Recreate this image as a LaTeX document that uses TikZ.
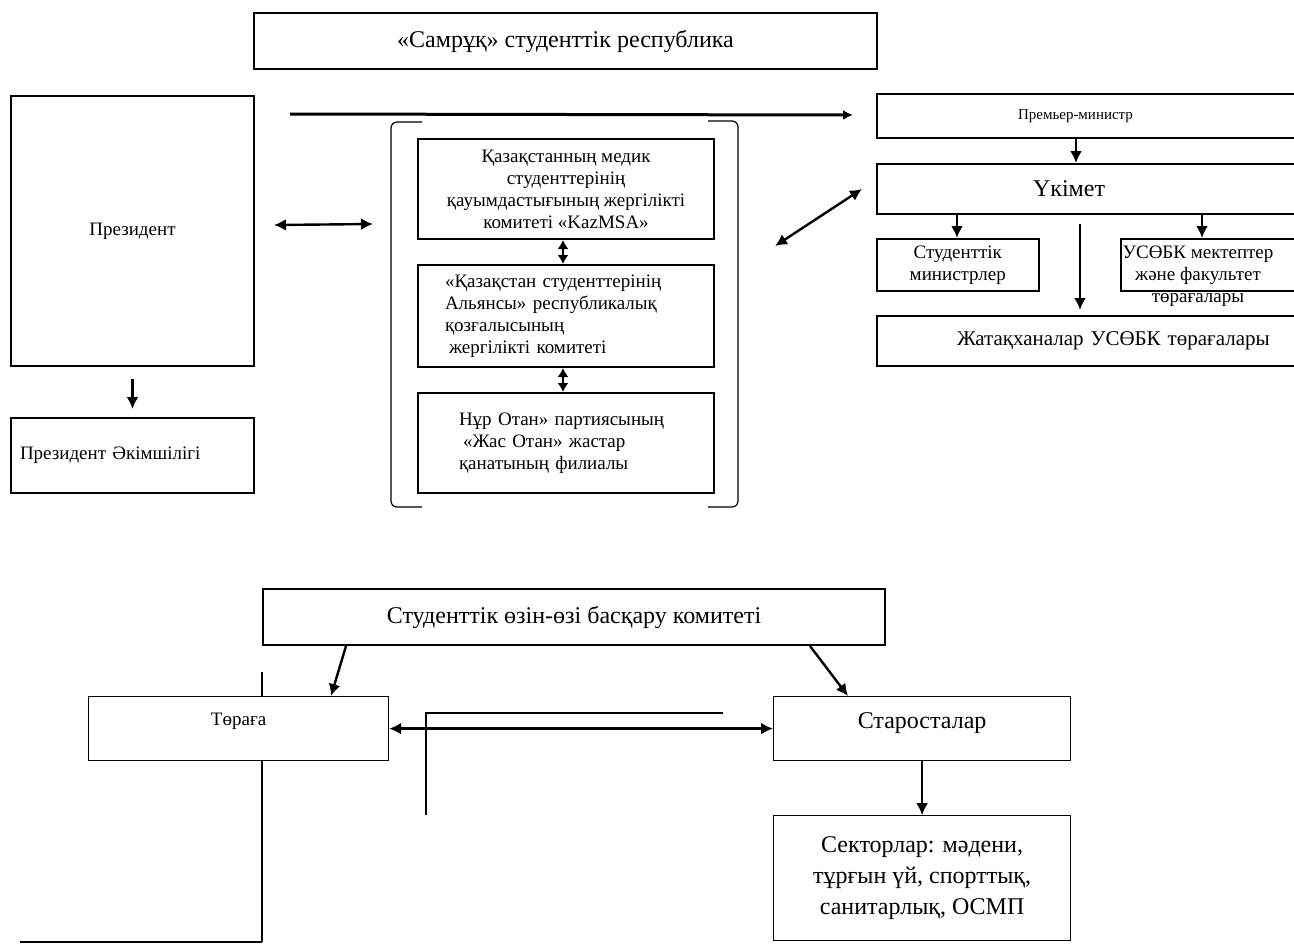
\documentclass[tikz,border=0pt]{standalone}
\usepackage{fontspec}
\setmainfont{Liberation Serif}
\usetikzlibrary{positioning}
\usetikzlibrary{arrows.meta}
\usetikzlibrary{calc}

\begin{document}
\begin{tikzpicture}[
    x=0.5pt, y=-0.5pt,
    box/.style={rectangle, draw=black, fill=white, line width=1pt, anchor=north west, align=center, inner sep=0pt},
    thinbox/.style={box, line width=0.6pt},
    big/.style={font=\fontsize{12}{15.5}\selectfont},
    med/.style={font=\fontsize{9.5}{11}\selectfont},
    sml/.style={font=\fontsize{7.5}{10}\selectfont},
    arr/.style={line width=1.2pt, -{Latex[length=6pt, width=6pt]}},
    darr/.style={line width=1.2pt, {Latex[length=6pt, width=6pt]}-{Latex[length=6pt, width=6pt]}},
    sdarr/.style={line width=1.2pt, {Latex[length=4.5pt, width=5.5pt]}-{Latex[length=4.5pt, width=5.5pt]}},
    thinline/.style={line width=0.6pt},
]
    \useasboundingbox (0,0) rectangle (1294,944);

    % loose lines behind the lower boxes
    \coordinate (L1) at (262,672);
    \coordinate (L2) at (262,942);
    \coordinate (L3) at (20,942);
    \coordinate (L4) at (723,713);
    \coordinate (L5) at (426,713);
    \coordinate (L6) at (426,815);
    \draw[thinline] (L1) -- (L2);
    \draw[line width=1pt] (L2) -- (L3);
    \draw[line width=1pt] (L4) -- (L5) -- (L6);

    \node[box, minimum width=311.5pt, minimum height=28pt, big] (S1) at (253,12) {«Самрұқ» студенттік республика};

    \node[box, minimum width=121.5pt, minimum height=135pt, med] (P1) at (10,95) {Президент};
    \node[box, minimum width=121.5pt, minimum height=37.5pt, med, align=left, text width=112.5pt] (P2) at (10,417) {Президент Әкімшілігі};

    \node[box, minimum width=148pt, minimum height=50pt, med] (M1) at (417,138) {Қазақстанның медик\\студенттерінің\\қауымдастығының жергілікті\\комитеті «KazMSA»};
    \node[box, minimum width=148pt, minimum height=51pt, med, align=left, text width=121pt] (M2) [below=12pt of M1] {«Қазақстан студенттерінің\\Альянсы» республикалық\\қозғалысының\\\hspace*{2pt}жергілікті комитеті};
    \node[box, minimum width=148pt, minimum height=50pt, med, align=left, text width=107pt] (M3) [below=12pt of M2] {Нұр Отан» партиясының\\\hspace*{2pt}«Жас Отан» жастар\\қанатының филиалы};

    \node[box, minimum width=212pt, minimum height=22pt, sml, align=left, text width=71pt] (R1) at (876,93) {Премьер-министр};
    \node[box, minimum width=212pt, minimum height=25pt, big, align=left, text width=56pt] (R2) [below=12pt of R1] {Үкімет};
    \node[box, minimum width=81pt, minimum height=26pt, med, line width=0.8pt] (R3) at (876,238) {Студенттік\\министрлер};
    \node[box, minimum width=100pt, minimum height=26pt, line width=0.8pt] (R4) at (1120,238) {};
    \node[med, align=center] (R4t) at ($(R4.north west)+(78,38)$) {УСӨБК мектептер\\және факультет\\төрағалары};
    \node[box, minimum width=250pt, minimum height=25pt, font=\fontsize{10.5}{13}\selectfont, align=left, text width=170pt] (R5) at (876,315) {Жатақханалар УСӨБК төрағалары};

    \node[box, minimum width=311pt, minimum height=28pt, big] (C1) at (262,588) {Студенттік өзін-өзі басқару комитеті};
    \node[thinbox, minimum width=150pt, minimum height=32pt, med, text height=7pt, text depth=10pt] (C2) at (88,696) {Төраға};
    \node[thinbox, minimum width=148.5pt, minimum height=32pt, big, text height=8pt, text depth=8pt] (C3) at (773,696) {Старосталар};
    \node[thinbox, minimum width=148.5pt, minimum height=62.5pt, big] (C4) [below=27pt of C3] {Секторлар: мәдени,\\тұрғын үй, спорттық,\\санитарлық, ОСМП};

    % brackets round the middle column
    \draw[thinline, rounded corners=3pt] (422,122) -- (391,122) -- (391,507) -- (422,507);
    \draw[thinline, rounded corners=3pt] (708,121) -- (738,121) -- (738,507) -- (708,507);
    \coordinate (BL) at (391,224);
    \coordinate (BR) at (738,246);
    \coordinate (A1) at (290,114);

    \draw[line width=1.5pt, -{Latex[length=5pt, width=5pt]}] (A1) -- ($(R1.west)+(-23,-1)$);
    \draw[darr] ($(P1.east)+(19,-6)$) -- ($(BL)+(-18,0)$);
    \draw[darr] ($(BR)+(37,0)$) -- ($(R2.west)+(-14,0)$);
    \draw[arr] ($(P1.south)+(0,12)$) -- ($(P2.north)+(0,-8)$);

    \draw[sdarr] ([xshift=-1.5pt]M1.south) -- ([xshift=-1.5pt]M2.north);
    \draw[sdarr] ([xshift=-1.5pt]M2.south) -- ([xshift=-1.5pt]M3.north);

    \draw[arr] ([xshift=100pt]R1.south west) -- ([xshift=100pt]R2.north west);
    \draw[arr] ([xshift=40.5pt]R2.south west) -- ([xshift=40.5pt]R3.north west);
    \draw[arr] ([xshift=163pt]R2.south west) -- ([xshift=41pt]R4.north west);
    \draw[arr] ([xshift=102pt, yshift=-4.5pt]R2.south west) -- ([xshift=102pt, yshift=2.5pt]R5.north west);

    \draw[arr] ([xshift=42pt]C1.south west) -- ([xshift=121.5pt]C2.north west);
    \draw[arr] ([xshift=274pt]C1.south west) -- ([xshift=37.5pt]C3.north west);
    \draw[darr] (C2.east) -- (C3.west);
    \draw[arr] (C3.south) -- (C4.north);

\end{tikzpicture}
\end{document}
